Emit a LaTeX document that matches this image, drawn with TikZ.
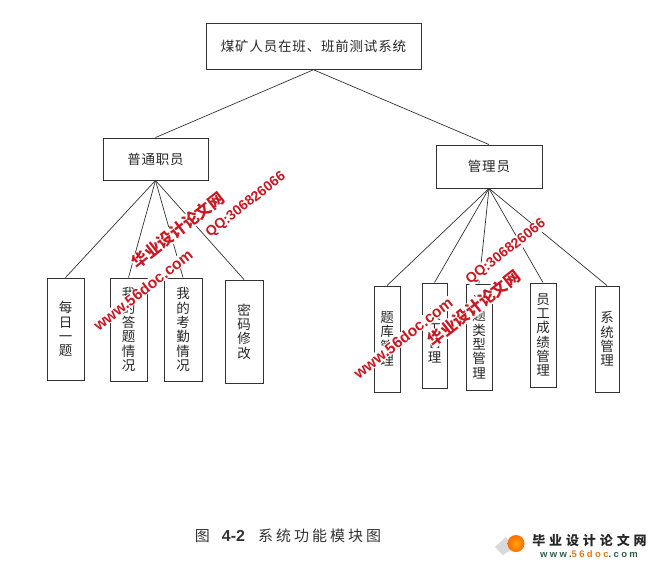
\documentclass[tikz,border=0pt]{standalone}
\usepackage{fontspec}
\newfontfamily\cjk{Noto Sans CJK SC}
\newfontfamily\cjkwide[LetterSpace=6]{Noto Sans CJK SC}
\newfontfamily\latn{Liberation Sans}
\definecolor{wmred}{RGB}{200,25,35}
\definecolor{inkgray}{RGB}{50,50,50}
\definecolor{logogreen}{RGB}{45,95,75}
\definecolor{logoorange}{RGB}{225,120,30}
\tikzset{
  box/.style={draw=inkgray, line width=0.9pt, inner sep=0pt, align=center, text=black!85, font=\cjkwide\fontsize{13.5}{14.3}\selectfont},
  link/.style={draw=inkgray, line width=0.7pt},
  wmtext/.style={rotate=38, text=wmred, fill=white, inner sep=0.4pt},
}
\begin{document}
\begin{tikzpicture}[x=1pt,y=-1pt]
\useasboundingbox (0,0) rectangle (659,563);
\node[box, minimum width=215, minimum height=46] (sys) at (313.5,46.3){煤矿人员在班、班前测试系统};
\node[box, minimum width=105, minimum height=42] (staff) at (155.5,159){普通职员};
\node[box, minimum width=106, minimum height=43] (admin) at (489,166.5){管理员};
\node[box, minimum width=37, minimum height=102] (staff1) at (65.5,329){每\\日\\一\\题};
\node[box, minimum width=37, minimum height=103] (staff2) at (128.5,329.5){我\\的\\答\\题\\情\\况};
\node[box, minimum width=38, minimum height=103] (staff3) at (183,329.5){我\\的\\考\\勤\\情\\况};
\node[box, minimum width=38, minimum height=103] (staff4) at (244,331.5){密\\码\\修\\改};
\node[box, minimum width=26, minimum height=106] (admin1) at (387,339){题\\库\\管\\理};
\node[box, minimum width=25, minimum height=105] (admin2) at (434.5,335.5){员\\工\\管\\理};
\node[box, minimum width=26, minimum height=106] (admin3) at (479,337){试\\题\\类\\型\\管\\理};
\node[box, minimum width=26, minimum height=104] (admin4) at (543,335){员\\工\\成\\绩\\管\\理};
\node[box, minimum width=24, minimum height=106] (admin5) at (607,339){系\\统\\管\\理};
\draw[link] (sys.south) -- (staff.north);
\draw[link] (sys.south) -- (admin.north);
\draw[link] (staff.south) -- (staff1.north);
\draw[link] (staff.south) -- (staff2.north);
\draw[link] (staff.south) -- (staff3.north);
\draw[link] (staff.south) -- (staff4.north);
\draw[link] (admin.south) -- (admin1.north);
\draw[link] (admin.south) -- (admin2.north);
\draw[link] (admin.south) -- (admin3.north);
\draw[link] (admin.south) -- (admin4.north);
\draw[link] (admin.south) -- (admin5.north);
\node[wmtext, font=\cjk\bfseries\fontsize{16}{16}\selectfont] (wm1) at (178,230){华业设计论文网};
\node[wmtext, font=\latn\bfseries\fontsize{15.5}{16}\selectfont] (wm2) at (143,290){www.56doc.com};
\node[wmtext, font=\latn\bfseries\fontsize{14}{14}\selectfont] (wm3) at (246,205){QQ:306826066};
\node[wmtext, font=\cjk\bfseries\fontsize{16}{16}\selectfont] (wm4) at (474,308){华业设计论文网};
\node[wmtext, font=\latn\bfseries\fontsize{15.5}{16}\selectfont] (wm5) at (403,338){www.56doc.com};
\node[wmtext, font=\latn\bfseries\fontsize{14}{14}\selectfont] (wm6) at (506,252){QQ:306826066};
\node[text=black!80, font=\cjk\fontsize{15}{15}\selectfont] (caption) at (288,536){图\kern12pt{\latn\bfseries\fontsize{16}{16}\selectfont 4-2}\kern13pt{\addfontfeature{LetterSpace=20}系统功能模块图}};
\fill[black!15] (495,547) -- (506,537) -- (514,548) -- (503,555) -- cycle;
\shade[inner color=orange!70!yellow, outer color=orange!85!red] (516,543.5) circle (8.5);
\node[text=black!85, font=\cjk\bfseries\fontsize{13}{13}\selectfont\addfontfeature{LetterSpace=30}] (logo1) at (589.5,540.5){毕业设计论文网};
\node[text=logogreen, font=\latn\bfseries\fontsize{9.5}{10}\selectfont\addfontfeature{LetterSpace=25}] (logo2) at (589,554){www.{\color{logoorange}56doc}.com};
\end{tikzpicture}
\end{document}
